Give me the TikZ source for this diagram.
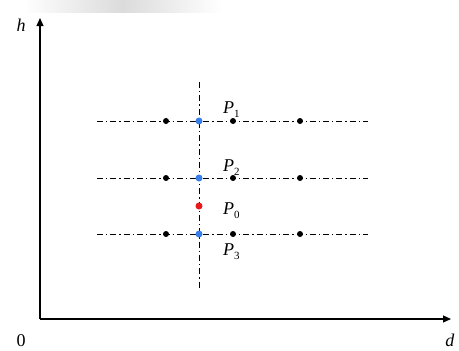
\documentclass[tikz,border=0pt]{standalone}
\usepackage{fontspec}
\setmainfont{Liberation Serif}
\usetikzlibrary{arrows.meta}
\definecolor{dotblue}{HTML}{3A7FE8}
\definecolor{dotred}{HTML}{E8181B}
\tikzset{
  axis/.style={line width=1.2pt,-{Triangle[length=8pt,width=7pt]}},
  dashdot/.style={line width=0.9pt,dash pattern=on 6pt off 3pt on 1.3pt off 3pt},
  bdot/.style={circle,fill=black,inner sep=0pt,minimum size=6pt},
  bluedot/.style={circle,fill=dotblue,inner sep=0pt,minimum size=7pt},
  reddot/.style={circle,fill=dotred,inner sep=0pt,minimum size=7pt},
  lbl/.style={inner sep=0pt,anchor=base west,font=\fontsize{18}{20}\selectfont},
  axlbl/.style={inner sep=0pt,anchor=base,font=\fontsize{18}{20}\selectfont}
}
\newcommand{\pl}[1]{\textit{P}\raisebox{-4pt}{\fontsize{11}{12}\selectfont #1}}
\begin{document}
\begin{tikzpicture}[x=1pt,y=-1pt]
\useasboundingbox (0,0) rectangle (459,351);
% faint blurred band at top
\shade[left color=white, right color=white, middle color=gray!28] (23,0) rectangle (222,12);
% axes
\coordinate (O) at (40,319);
\coordinate (Xend) at (451,319);
\coordinate (Yend) at (40,18);
\draw[axis] (O) -- (Xend);
\draw[axis] (O) -- (Yend);
\node[axlbl] (hl) at (21,31) {\textit{h}};
\node[axlbl] (dl) at (450,346) {\textit{d}};
\node[axlbl] (zl) at (21,346) {0};
% dash-dot lines
\coordinate (L1a) at (97,121); \coordinate (L1b) at (368,121);
\coordinate (L2a) at (97,178); \coordinate (L2b) at (368,178);
\coordinate (L3a) at (97,234); \coordinate (L3b) at (368,234);
\coordinate (Va) at (199,82); \coordinate (Vb) at (199,288);
\draw[dashdot] (L1a) -- (L1b);
\draw[dashdot] (L2a) -- (L2b);
\draw[dashdot] (L3a) -- (L3b);
\draw[dashdot] (Va) -- (Vb);
% dots
\foreach \r/\y in {1/121,2/178,3/234}{
  \node[bdot] (a\r) at (166,\y) {};
  \node[bluedot] (b\r) at (199,\y) {};
  \node[bdot] (c\r) at (233,\y) {};
  \node[bdot] (d\r) at (300,\y) {};
}
\node[reddot] (p0) at (199,206) {};
% labels
\node[lbl] (lp1) at (223,113) {\pl{1}};
\node[lbl] (lp2) at (223,171) {\pl{2}};
\node[lbl] (lp0) at (223,214) {\pl{0}};
\node[lbl] (lp3) at (223,255) {\pl{3}};
\end{tikzpicture}
\end{document}
